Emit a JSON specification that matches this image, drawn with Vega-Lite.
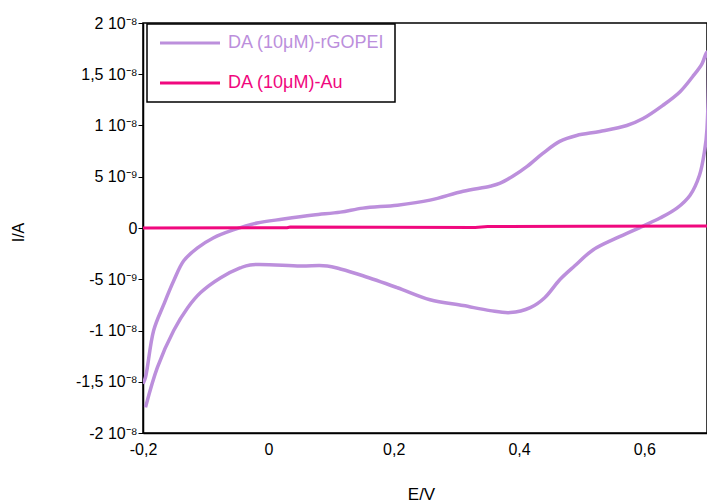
{
  "$schema": "https://vega.github.io/schema/vega-lite/v6.json",
  "width": 564,
  "height": 410,
  "autosize": "none",
  "padding": {"left": 143, "top": 23, "right": 0, "bottom": 69},
  "background": "white",
  "config": {
    "font": "Liberation Sans",
    "view": {"stroke": "black", "strokeWidth": 1.5},
    "axis": {"grid": false, "domainColor": "black", "domainWidth": 1.5, "tickColor": "black", "labelColor": "black", "titleColor": "black", "labelFont": "Liberation Sans", "titleFont": "Liberation Sans", "titleFontWeight": "normal", "labelFlush": false}
  },
  "data": {
    "values": [
      {"s": "DA (10μM)-rGOPEI", "k": 1, "E": -0.196, "I": -1.75e-8},
      {"s": "DA (10μM)-rGOPEI", "k": 2, "E": -0.177, "I": -1.36e-8},
      {"s": "DA (10μM)-rGOPEI", "k": 3, "E": -0.151, "I": -1.0e-8},
      {"s": "DA (10μM)-rGOPEI", "k": 4, "E": -0.129, "I": -0.78e-8},
      {"s": "DA (10μM)-rGOPEI", "k": 5, "E": -0.108, "I": -0.63e-8},
      {"s": "DA (10μM)-rGOPEI", "k": 6, "E": -0.076, "I": -0.485e-8},
      {"s": "DA (10μM)-rGOPEI", "k": 7, "E": -0.045, "I": -0.39e-8},
      {"s": "DA (10μM)-rGOPEI", "k": 8, "E": -0.029, "I": -0.36e-8},
      {"s": "DA (10μM)-rGOPEI", "k": 9, "E": 0.051, "I": -0.37e-8},
      {"s": "DA (10μM)-rGOPEI", "k": 10, "E": 0.094, "I": -0.37e-8},
      {"s": "DA (10μM)-rGOPEI", "k": 11, "E": 0.115, "I": -0.40e-8},
      {"s": "DA (10μM)-rGOPEI", "k": 12, "E": 0.151, "I": -0.466e-8},
      {"s": "DA (10μM)-rGOPEI", "k": 13, "E": 0.206, "I": -0.583e-8},
      {"s": "DA (10μM)-rGOPEI", "k": 14, "E": 0.258, "I": -0.70e-8},
      {"s": "DA (10μM)-rGOPEI", "k": 15, "E": 0.311, "I": -0.757e-8},
      {"s": "DA (10μM)-rGOPEI", "k": 16, "E": 0.354, "I": -0.806e-8},
      {"s": "DA (10μM)-rGOPEI", "k": 17, "E": 0.386, "I": -0.825e-8},
      {"s": "DA (10μM)-rGOPEI", "k": 18, "E": 0.418, "I": -0.777e-8},
      {"s": "DA (10μM)-rGOPEI", "k": 19, "E": 0.441, "I": -0.68e-8},
      {"s": "DA (10μM)-rGOPEI", "k": 20, "E": 0.465, "I": -0.505e-8},
      {"s": "DA (10μM)-rGOPEI", "k": 21, "E": 0.489, "I": -0.369e-8},
      {"s": "DA (10μM)-rGOPEI", "k": 22, "E": 0.518, "I": -0.214e-8},
      {"s": "DA (10μM)-rGOPEI", "k": 23, "E": 0.556, "I": -0.097e-8},
      {"s": "DA (10μM)-rGOPEI", "k": 24, "E": 0.598, "I": 0.019e-8},
      {"s": "DA (10μM)-rGOPEI", "k": 25, "E": 0.625, "I": 0.097e-8},
      {"s": "DA (10μM)-rGOPEI", "k": 26, "E": 0.652, "I": 0.194e-8},
      {"s": "DA (10μM)-rGOPEI", "k": 27, "E": 0.673, "I": 0.32e-8},
      {"s": "DA (10μM)-rGOPEI", "k": 28, "E": 0.688, "I": 0.515e-8},
      {"s": "DA (10μM)-rGOPEI", "k": 29, "E": 0.696, "I": 0.748e-8},
      {"s": "DA (10μM)-rGOPEI", "k": 30, "E": 0.700, "I": 0.971e-8},
      {"s": "DA (10μM)-rGOPEI", "k": 31, "E": 0.700, "I": 1.718e-8},
      {"s": "DA (10μM)-rGOPEI", "k": 32, "E": 0.692, "I": 1.602e-8},
      {"s": "DA (10μM)-rGOPEI", "k": 33, "E": 0.677, "I": 1.476e-8},
      {"s": "DA (10μM)-rGOPEI", "k": 34, "E": 0.657, "I": 1.33e-8},
      {"s": "DA (10μM)-rGOPEI", "k": 35, "E": 0.629, "I": 1.194e-8},
      {"s": "DA (10μM)-rGOPEI", "k": 36, "E": 0.598, "I": 1.068e-8},
      {"s": "DA (10μM)-rGOPEI", "k": 37, "E": 0.572, "I": 1.0e-8},
      {"s": "DA (10μM)-rGOPEI", "k": 38, "E": 0.529, "I": 0.942e-8},
      {"s": "DA (10μM)-rGOPEI", "k": 39, "E": 0.492, "I": 0.903e-8},
      {"s": "DA (10μM)-rGOPEI", "k": 40, "E": 0.465, "I": 0.845e-8},
      {"s": "DA (10μM)-rGOPEI", "k": 41, "E": 0.438, "I": 0.728e-8},
      {"s": "DA (10μM)-rGOPEI", "k": 42, "E": 0.413, "I": 0.602e-8},
      {"s": "DA (10μM)-rGOPEI", "k": 43, "E": 0.390, "I": 0.505e-8},
      {"s": "DA (10μM)-rGOPEI", "k": 44, "E": 0.370, "I": 0.437e-8},
      {"s": "DA (10μM)-rGOPEI", "k": 45, "E": 0.354, "I": 0.408e-8},
      {"s": "DA (10μM)-rGOPEI", "k": 46, "E": 0.311, "I": 0.359e-8},
      {"s": "DA (10μM)-rGOPEI", "k": 47, "E": 0.258, "I": 0.272e-8},
      {"s": "DA (10μM)-rGOPEI", "k": 48, "E": 0.206, "I": 0.223e-8},
      {"s": "DA (10μM)-rGOPEI", "k": 49, "E": 0.151, "I": 0.194e-8},
      {"s": "DA (10μM)-rGOPEI", "k": 50, "E": 0.115, "I": 0.155e-8},
      {"s": "DA (10μM)-rGOPEI", "k": 51, "E": 0.072, "I": 0.126e-8},
      {"s": "DA (10μM)-rGOPEI", "k": 52, "E": 0.024, "I": 0.087e-8},
      {"s": "DA (10μM)-rGOPEI", "k": 53, "E": -0.018, "I": 0.049e-8},
      {"s": "DA (10μM)-rGOPEI", "k": 54, "E": -0.056, "I": -0.019e-8},
      {"s": "DA (10μM)-rGOPEI", "k": 55, "E": -0.088, "I": -0.097e-8},
      {"s": "DA (10μM)-rGOPEI", "k": 56, "E": -0.113, "I": -0.194e-8},
      {"s": "DA (10μM)-rGOPEI", "k": 57, "E": -0.135, "I": -0.32e-8},
      {"s": "DA (10μM)-rGOPEI", "k": 58, "E": -0.151, "I": -0.515e-8},
      {"s": "DA (10μM)-rGOPEI", "k": 59, "E": -0.167, "I": -0.748e-8},
      {"s": "DA (10μM)-rGOPEI", "k": 60, "E": -0.183, "I": -1.0e-8},
      {"s": "DA (10μM)-rGOPEI", "k": 61, "E": -0.196, "I": -1.456e-8},
      {"s": "DA (10μM)-rGOPEI", "k": 62, "E": -0.200, "I": -1.52e-8},
      {"s": "DA (10μM)-Au", "k": 1, "E": -0.2, "I": 0.0},
      {"s": "DA (10μM)-Au", "k": 2, "E": 0.03, "I": 0.02e-9},
      {"s": "DA (10μM)-Au", "k": 3, "E": 0.035, "I": 0.1e-9},
      {"s": "DA (10μM)-Au", "k": 4, "E": 0.33, "I": 0.05e-9},
      {"s": "DA (10μM)-Au", "k": 5, "E": 0.35, "I": 0.15e-9},
      {"s": "DA (10μM)-Au", "k": 6, "E": 0.5, "I": 0.16e-9},
      {"s": "DA (10μM)-Au", "k": 7, "E": 0.7, "I": 0.2e-9}
    ]
  },
  "encoding": {
    "x": {
      "field": "E", "type": "quantitative",
      "scale": {"domain": [-0.2, 0.7], "nice": false, "zero": false},
      "axis": {
        "title": "E/V", "titleFontSize": 17, "titleX": 278, "titleY": 66, "titleBaseline": "alphabetic", "titleAnchor": "middle", "titleAlign": "center",
        "values": [-0.2, 0, 0.2, 0.4, 0.6], "ticks": false, "labelPadding": 8, "labelFontSize": 16,
        "labelExpr": "datum.value == 0 ? '0' : (datum.value < 0 ? '-' : '') + replace(format(abs(datum.value), '~g'), '.', ',')"
      }
    },
    "y": {
      "field": "I", "type": "quantitative",
      "scale": {"domain": [-2e-8, 2e-8], "nice": false, "zero": false},
      "axis": {
        "title": "I/A", "titleFontSize": 16, "titleX": -125, "titleY": 209, "titleAngle": -90, "titleAlign": "center", "titleBaseline": "middle",
        "values": [-2e-8, -1.5e-8, -1e-8, -5e-9, 0, 5e-9, 1e-8, 1.5e-8, 2e-8],
        "tickSize": 5, "labelPadding": 1, "labelFontSize": 16,
        "labelExpr": "datum.value == 0 ? '0' : (datum.value < 0 ? '-' : '') + (abs(datum.value) > 7e-9 ? replace(format(abs(datum.value) * 1e8, '~g'), '.', ',') + ' 10⁻⁸' : format(abs(datum.value) * 1e9, '~g') + ' 10⁻⁹')"
      }
    },
    "color": {
      "field": "s", "type": "nominal",
      "scale": {"domain": ["DA (10μM)-rGOPEI", "DA (10μM)-Au"], "range": ["#bc8fdc", "#f0087e"]},
      "legend": {
        "title": null, "orient": "none", "legendX": 4, "legendY": 1,
        "strokeColor": "black", "fillColor": "white", "padding": 10,
        "symbolType": "M-1,0L9,0", "symbolSize": 144, "symbolStrokeWidth": 3,
        "labelFontSize": 18, "labelOffset": 53, "rowPadding": 22, "labelFont": "Liberation Sans",
        "encode": {
          "legend": {"update": {"strokeWidth": {"value": 1.5}}},
          "labels": {"update": {"fill": {"signal": "datum.value === 'DA (10μM)-Au' ? '#f0087e' : '#bc8fdc'"}}}
        }
      }
    },
    "order": {"field": "k", "type": "quantitative"}
  },
  "layer": [
    {
      "transform": [{"filter": "datum.s == 'DA (10μM)-rGOPEI'"}],
      "mark": {"type": "line", "strokeWidth": 3.5, "clip": true, "interpolate": "catmull-rom"}
    },
    {
      "transform": [{"filter": "datum.s == 'DA (10μM)-Au'"}],
      "mark": {"type": "line", "strokeWidth": 3, "clip": true}
    }
  ]
}
